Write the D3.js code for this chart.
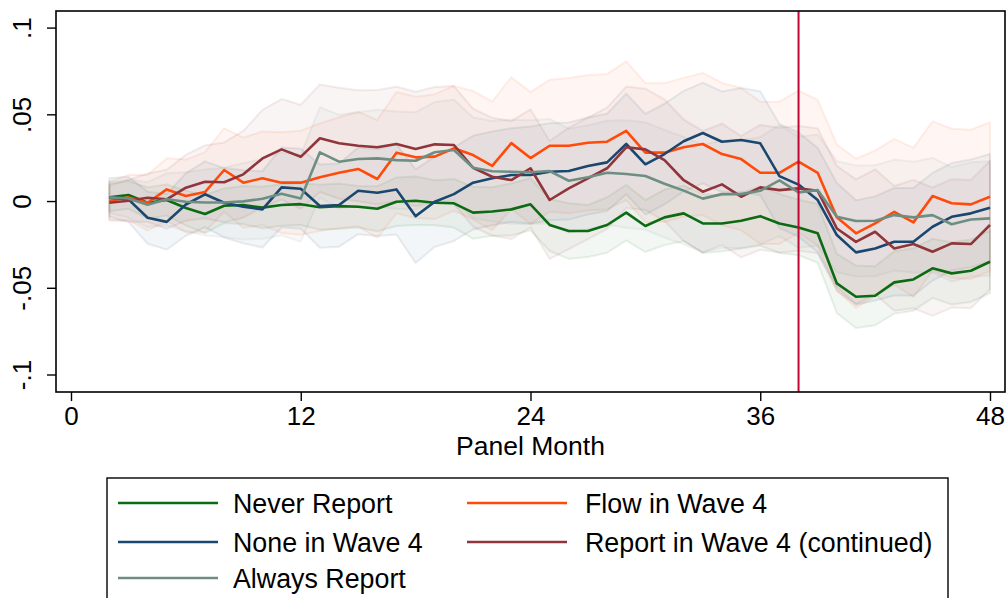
<!DOCTYPE html>
<html>
<head>
<meta charset="utf-8">
<script src="https://cdn.jsdelivr.net/npm/d3@7"></script>
<style>
  body { margin: 0; background: #fff; }
  svg { display: block; font-family: "Liberation Sans", Arial, sans-serif; }
</style>
</head>
<body>
<svg id="chart" width="1008" height="598"></svg>
<script>
// Panel months with estimates
const months = [2,3,4,5,6,7,8,9,10,11,12,13,14,15,16,17,18,19,20,21,22,23,24,25,
  26,27,28,29,30,31,32,33,34,35,36,37,38,39,40,41,42,43,44,45,46,47,48];

// Point estimates by group
const neverReport = [0.0021,0.0035,-0.0010,0.0006,-0.0040,-0.0075,-0.0027,-0.0023,-0.0038,-0.0023,-0.0018,
  -0.0036,-0.0029,-0.0033,-0.0044,-0.0004,0.0002,-0.0010,-0.0013,-0.0067,-0.0060,-0.0048,-0.0019,
  -0.0138,-0.0173,-0.0173,-0.0138,-0.0067,-0.0144,-0.0094,-0.0071,-0.0129,-0.0129,-0.0114,-0.0087,
  -0.0129,-0.0152,-0.0186,-0.0475,-0.0552,-0.0546,-0.0469,-0.0452,-0.0388,-0.0417,-0.0402,-0.0350];
const flowWave4 = [0.0002,0.0021,-0.0010,0.0067,0.0029,0.0052,0.0179,0.0106,0.0131,0.0106,0.0106,
  0.0137,0.0163,0.0185,0.0127,0.0279,0.0252,0.0256,0.0304,0.0265,0.0203,0.0334,0.0248,
  0.0319,0.0319,0.0336,0.0342,0.0405,0.0279,0.0279,0.0310,0.0329,0.0271,0.0242,0.0163,
  0.0163,0.0227,0.0163,-0.0094,-0.0186,-0.0129,-0.0062,-0.0123,0.0029,-0.0013,-0.0019,0.0025];
const noneWave4 = [0.0021,0.0010,-0.0096,-0.0120,-0.0020,0.0039,-0.0010,-0.0033,-0.0048,0.0079,0.0071,
  -0.0029,-0.0023,0.0059,0.0048,0.0067,-0.0087,-0.0004,0.0040,0.0106,0.0131,0.0150,0.0150,
  0.0169,0.0173,0.0202,0.0223,0.0329,0.0212,0.0271,0.0345,0.0392,0.0342,0.0352,0.0333,
  0.0144,0.0095,0.0006,-0.0196,-0.0296,-0.0273,-0.0235,-0.0235,-0.0148,-0.0091,-0.0071,-0.0039];
const reportWave4 = [-0.0010,0.0002,0.0019,0.0010,0.0077,0.0111,0.0108,0.0154,0.0246,0.0298,0.0255,
  0.0362,0.0333,0.0319,0.0310,0.0329,0.0300,0.0327,0.0323,0.0192,0.0140,0.0121,0.0189,
  0.0006,0.0073,0.0131,0.0189,0.0310,0.0298,0.0236,0.0120,0.0054,0.0096,0.0025,0.0079,
  0.0063,0.0073,0.0059,-0.0158,-0.0235,-0.0177,-0.0273,-0.0248,-0.0292,-0.0244,-0.0248,-0.0138];
const alwaysReport = [0.0021,0.0015,-0.0021,0.0010,-0.0004,-0.0008,-0.0008,-0.0002,0.0013,0.0042,0.0015,
  0.0281,0.0227,0.0242,0.0246,0.0236,0.0232,0.0281,0.0294,0.0192,0.0172,0.0169,0.0166,
  0.0173,0.0117,0.0137,0.0163,0.0156,0.0144,0.0100,0.0060,0.0014,0.0040,0.0040,0.0059,
  0.0119,0.0050,0.0063,-0.0090,-0.0115,-0.0114,-0.0081,-0.0094,-0.0081,-0.0134,-0.0106,-0.0100];

// Half-widths of the 95% confidence bands
const neverReportCI = [0.008,0.008,0.009,0.009,0.010,0.011,0.010,0.011,0.012,0.012,0.012,
  0.013,0.013,0.012,0.013,0.014,0.014,0.013,0.014,0.015,0.014,0.015,0.015,
  0.015,0.016,0.015,0.016,0.016,0.015,0.016,0.016,0.017,0.016,0.016,0.017,
  0.017,0.016,0.017,0.017,0.018,0.017,0.018,0.018,0.017,0.018,0.018,0.018];
const flowWave4CI = [0.011,0.013,0.016,0.018,0.021,0.023,0.024,0.026,0.027,0.029,0.030,
  0.031,0.032,0.033,0.034,0.035,0.035,0.036,0.036,0.037,0.037,0.038,0.038,
  0.038,0.039,0.039,0.039,0.040,0.040,0.040,0.040,0.041,0.041,0.041,0.041,
  0.041,0.041,0.042,0.042,0.043,0.042,0.042,0.043,0.043,0.043,0.043,0.043];
const noneWave4CI = [0.011,0.013,0.015,0.016,0.018,0.019,0.020,0.021,0.022,0.023,0.023,
  0.024,0.024,0.025,0.025,0.026,0.027,0.026,0.027,0.027,0.027,0.027,0.028,
  0.028,0.028,0.028,0.028,0.029,0.029,0.029,0.029,0.029,0.029,0.030,0.030,
  0.030,0.030,0.030,0.030,0.030,0.030,0.031,0.031,0.031,0.031,0.031,0.031];
const reportWave4CI = [0.010,0.012,0.014,0.017,0.019,0.021,0.023,0.025,0.028,0.029,0.030,
  0.031,0.032,0.032,0.033,0.033,0.033,0.033,0.034,0.034,0.034,0.034,0.034,
  0.034,0.035,0.035,0.035,0.035,0.035,0.035,0.035,0.035,0.035,0.035,0.036,
  0.036,0.036,0.036,0.036,0.036,0.036,0.036,0.037,0.037,0.037,0.037,0.037];
const alwaysReportCI = [0.009,0.011,0.013,0.015,0.017,0.019,0.020,0.022,0.023,0.024,0.025,
  0.026,0.027,0.027,0.028,0.028,0.028,0.029,0.029,0.029,0.029,0.030,0.030,
  0.030,0.030,0.030,0.030,0.031,0.031,0.031,0.031,0.031,0.031,0.031,0.031,
  0.032,0.032,0.032,0.032,0.032,0.032,0.032,0.032,0.033,0.033,0.033,0.033];

const groupNames = ["Never Report", "Flow in Wave 4", "None in Wave 4",
  "Report in Wave 4 (continued)", "Always Report"];
const groupValues = [neverReport, flowWave4, noneWave4, reportWave4, alwaysReport];
const groupCI = [neverReportCI, flowWave4CI, noneWave4CI, reportWave4CI, alwaysReportCI];
const groupColors = ["#0b6b12", "#ff4a0a", "#1a476f", "#90353b", "#6e8e84"];

const xTicks = [0, 12, 24, 36, 48];
const yTicks = [-0.1, -0.05, 0, 0.05, 0.1];
const yTickLabels = ["-.1", "-.05", "0", ".05", ".1"];
const eventMonth = 38;

const svg = d3.select("#chart");
const frame = { left: 56, right: 1005, top: 11, bottom: 392 };

const x = d3.scaleLinear().domain([0, 48]).range([71, 990]);
const y = d3.scaleLinear().domain([-0.1, 0.1]).range([374.5, 27.6]);

const groups = groupNames.map((name, i) => ({
  name,
  color: groupColors[i],
  points: months.map((m, j) => ({ m, v: groupValues[i][j], h: groupCI[i][j] }))
}));

// Confidence bands
const area = d3.area()
  .x(d => x(d.m))
  .y0(d => y(d.v - d.h))
  .y1(d => y(d.v + d.h));

const bandLayer = svg.append("g");
groups.forEach(g => {
  bandLayer.append("path")
    .datum(g.points)
    .attr("d", area)
    .attr("fill", g.color)
    .attr("fill-opacity", 0.05)
    .attr("stroke", g.color)
    .attr("stroke-opacity", 0.09)
    .attr("stroke-width", 2)
    .attr("stroke-linejoin", "round");
});

// Point estimate lines
const line = d3.line().x(d => x(d.m)).y(d => y(d.v));
const lineLayer = svg.append("g");
groups.forEach(g => {
  lineLayer.append("path")
    .datum(g.points)
    .attr("d", line)
    .attr("fill", "none")
    .attr("stroke", g.color)
    .attr("stroke-width", 2.6)
    .attr("stroke-linejoin", "round");
});

// Event month marker
svg.append("line")
  .attr("x1", x(eventMonth)).attr("x2", x(eventMonth))
  .attr("y1", frame.top).attr("y2", frame.bottom)
  .attr("stroke", "#c10534").attr("stroke-width", 2);

// Plot frame
svg.append("rect")
  .attr("x", frame.left).attr("y", frame.top)
  .attr("width", frame.right - frame.left).attr("height", frame.bottom - frame.top)
  .attr("fill", "none").attr("stroke", "#000").attr("stroke-width", 1.6);

// X axis
const xAxis = d3.axisBottom(x).tickValues(xTicks).tickSize(9).tickPadding(6);
const gx = svg.append("g").attr("transform", `translate(0,${frame.bottom})`).call(xAxis);
gx.select(".domain").remove();
gx.selectAll(".tick line").attr("stroke", "#000").attr("stroke-width", 1.4);
gx.selectAll(".tick text").attr("fill", "#000").attr("font-size", 26)
  .attr("font-family", "Liberation Sans, Arial, sans-serif");

svg.append("text")
  .attr("x", (x(0) + x(48)) / 2).attr("y", 455)
  .attr("text-anchor", "middle").attr("font-size", 26.5).attr("fill", "#000")
  .text("Panel Month");

// Y axis (labels rotated)
const yAxis = d3.axisLeft(y).tickValues(yTicks).tickSize(9).tickFormat((d, i) => yTickLabels[i]);
const gy = svg.append("g").attr("transform", `translate(${frame.left},0)`).call(yAxis);
gy.select(".domain").remove();
gy.selectAll(".tick line").attr("stroke", "#000").attr("stroke-width", 1.4);
gy.selectAll(".tick text")
  .attr("fill", "#000").attr("font-size", 26)
  .attr("font-family", "Liberation Sans, Arial, sans-serif")
  .attr("x", null).attr("dy", null)
  .attr("text-anchor", "middle")
  .attr("transform", "translate(-25,0) rotate(-90)");

// Legend
const legend = svg.append("g");
legend.append("rect")
  .attr("x", 107).attr("y", 478).attr("width", 841).attr("height", 140)
  .attr("fill", "#fff").attr("stroke", "#000").attr("stroke-width", 1.4);

const legendCols = [{ lx: 118, tx: 233 }, { lx: 467, tx: 585 }];
const legendRows = [503, 542, 578];
groups.forEach((g, i) => {
  const col = legendCols[i % 2];
  const rowY = legendRows[Math.floor(i / 2)];
  legend.append("line")
    .attr("x1", col.lx).attr("x2", col.lx + 100)
    .attr("y1", rowY).attr("y2", rowY)
    .attr("stroke", g.color).attr("stroke-width", 2.6);
  legend.append("text")
    .attr("x", col.tx).attr("y", rowY + 9.5)
    .attr("font-size", 26.8).attr("fill", "#000")
    .text(g.name);
});
</script>
</body>
</html>
